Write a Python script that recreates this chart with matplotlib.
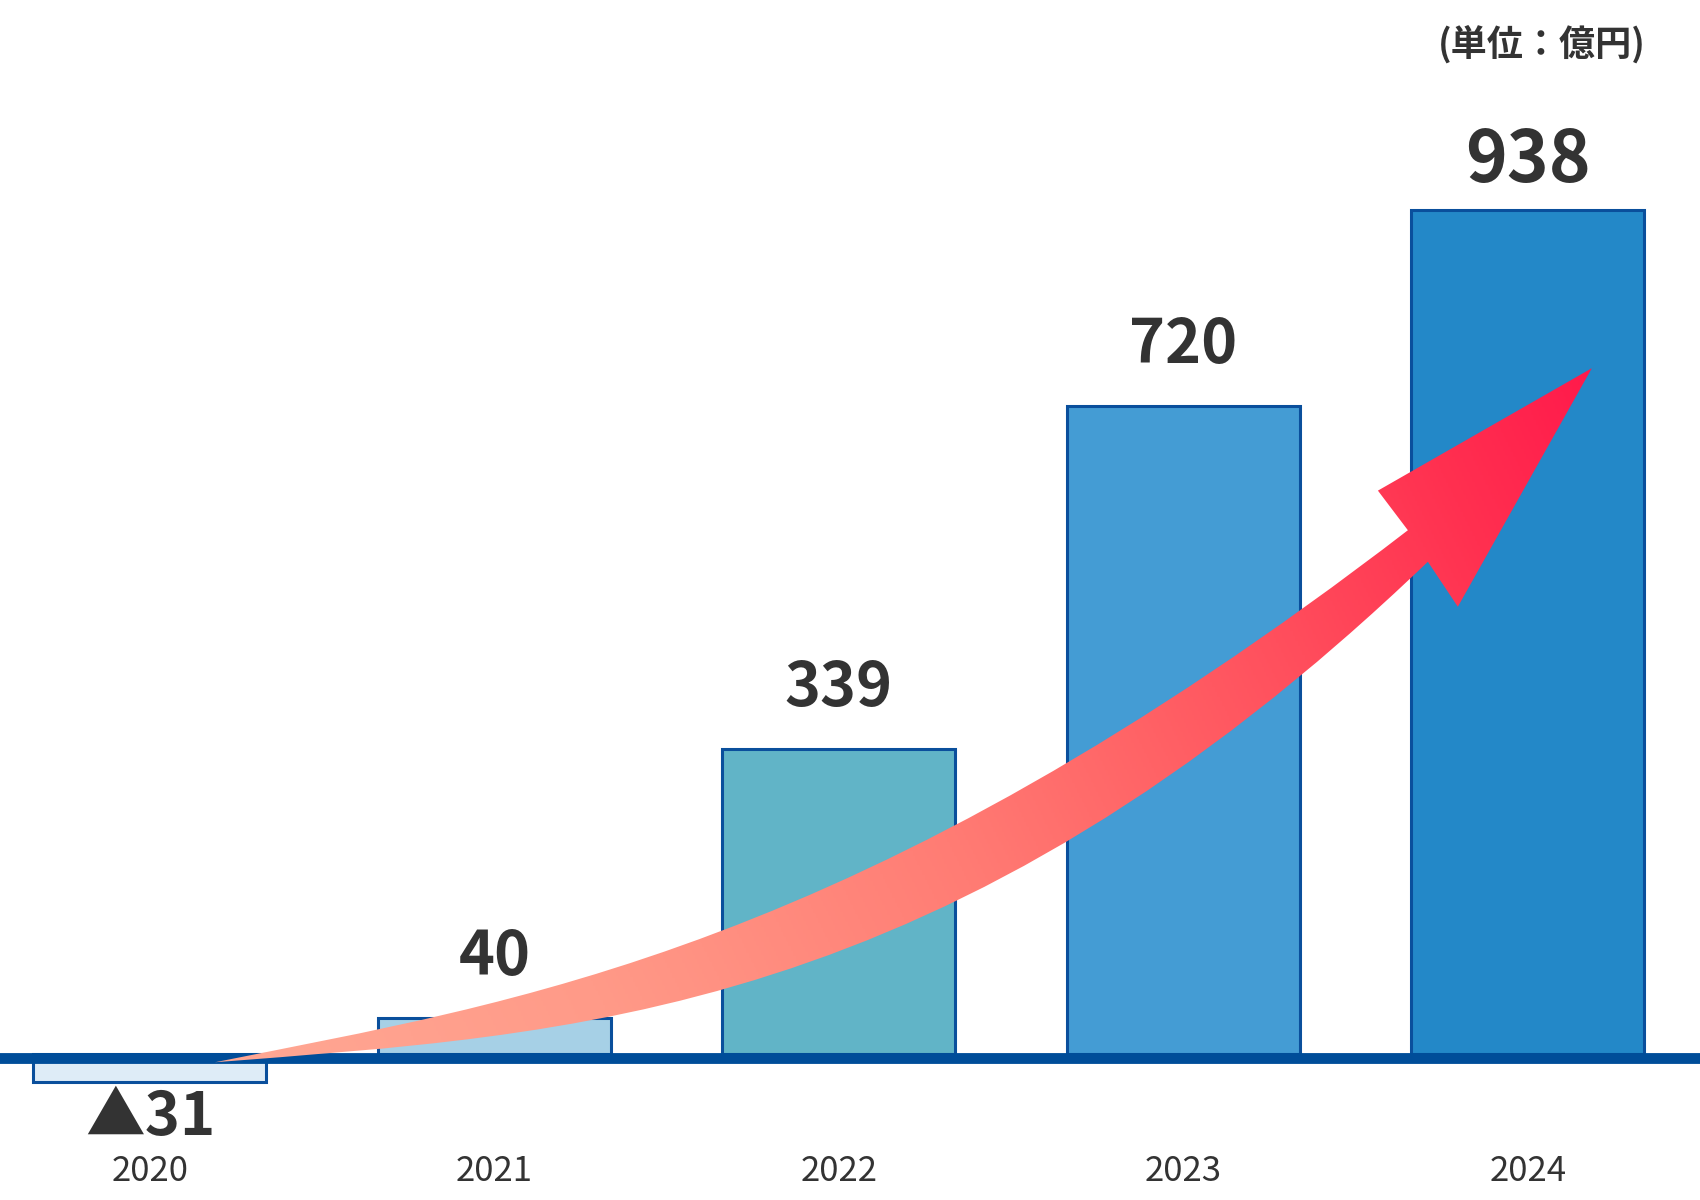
"""
Operating profit trend 2020-2024 with a rising gradient arrow.
"""
import numpy as np
import matplotlib
matplotlib.use("Agg")
import matplotlib.pyplot as plt
from matplotlib.path import Path
from matplotlib.patches import PathPatch
from matplotlib.colors import LinearSegmentedColormap
from matplotlib.transforms import blended_transform_factory

plt.rcParams["font.family"] = ["Noto Sans CJK JP", "DejaVu Sans"]

# data
years = ["2020", "2021", "2022", "2023", "2024"]
values = [-31, 40, 339, 720, 938]
bar_colors = ["#DEECF7", "#A6D0E6", "#61B4C7", "#449CD4", "#2388C8"]
unit_label = "(単位：億円)"

EDGE = "#0A4F9C"
TEXT = "#333333"

fig = plt.figure(figsize=(17, 12), dpi=100)
ax = fig.add_axes([0, 0, 1, 1])
ax.set_xlim(-0.435, 4.5)
ax.set_ylim(-162, 1171)
ax.axis("off")

x = np.arange(len(years))
ax.bar(x, values, width=0.676, color=bar_colors, edgecolor=EDGE,
       linewidth=2.2, zorder=2)
# baseline sits just under the zero line, covering the bars' zero edges
ax.axhline(-4, color="#004D99", linewidth=7.8, zorder=3)

# value labels
for i, v in enumerate(values):
    if v < 0:
        ax.annotate(f"▲{abs(v)}", (x[i], v), xytext=(0, -26), textcoords="offset points",
                    ha="center", va="center", fontsize=43, fontweight="bold", color=TEXT, zorder=6)
    else:
        last = i == len(values) - 1
        ax.annotate(f"{v}", (x[i], v), xytext=(0, 35 if last else 44), textcoords="offset points",
                    ha="center", va="center", fontsize=51 if last else 44,
                    fontweight="bold", color=TEXT, zorder=6)

# year labels under the axis
trans = blended_transform_factory(ax.transData, ax.transAxes)
for xi, yr in zip(x, years):
    ax.text(xi, 0.024, yr, transform=trans, ha="center", va="center",
            fontsize=25, color=TEXT)

ax.text(0.968, 0.963, unit_label, transform=ax.transAxes, ha="right", va="center",
        fontsize=26, fontweight="bold", color=TEXT)

# gradient arrow (decoration), outline in data units
tail = (0.189, -9)
up = [(1.060, 58), (2.055, 112), (3.652, 582)]
lo = [(1.205, 22), (2.316, 35), (3.710, 547)]
barb_l = (3.565, 626)
tip = (4.186, 762)
barb_r = (3.797, 497)

verts = [tail, up[0], up[1], up[2], barb_l, tip, barb_r, lo[2], lo[1], lo[0], tail, tail]
codes = [Path.MOVETO, Path.CURVE4, Path.CURVE4, Path.CURVE4,
         Path.LINETO, Path.LINETO, Path.LINETO, Path.LINETO,
         Path.CURVE4, Path.CURVE4, Path.CURVE4, Path.CLOSEPOLY]
arrow = PathPatch(Path(verts, codes), facecolor="none", edgecolor="none", zorder=4)
ax.add_patch(arrow)

cmap = LinearSegmentedColormap.from_list("arrow", [
    (0.0, "#FFA894"), (0.24, "#FF9A88"), (0.49, "#FF7C74"), (0.63, "#FF6366"),
    (0.75, "#FF4D5C"), (0.885, "#FF3050"), (1.0, "#FF1A4B")])

x0, x1 = 0.1, 4.3
y0, y1 = -20, 780
gx, gy = np.meshgrid(np.linspace(x0, x1, 600), np.linspace(y0, y1, 600))
pts = ax.transData.transform(np.column_stack([gx.ravel(), gy.ravel()]))
p0 = ax.transData.transform([tail])[0]
p1 = ax.transData.transform([tip])[0]
d = p1 - p0
t = ((pts - p0) @ d) / (d @ d)
t = np.clip(t, 0, 1).reshape(gx.shape)
im = ax.imshow(t, extent=(x0, x1, y0, y1), origin="lower", cmap=cmap,
               aspect="auto", interpolation="bilinear", zorder=4, vmin=0, vmax=1)
im.set_clip_path(arrow)

ax.set_xlim(-0.435, 4.5)
ax.set_ylim(-162, 1171)

fig.savefig("out.png", dpi=100)
